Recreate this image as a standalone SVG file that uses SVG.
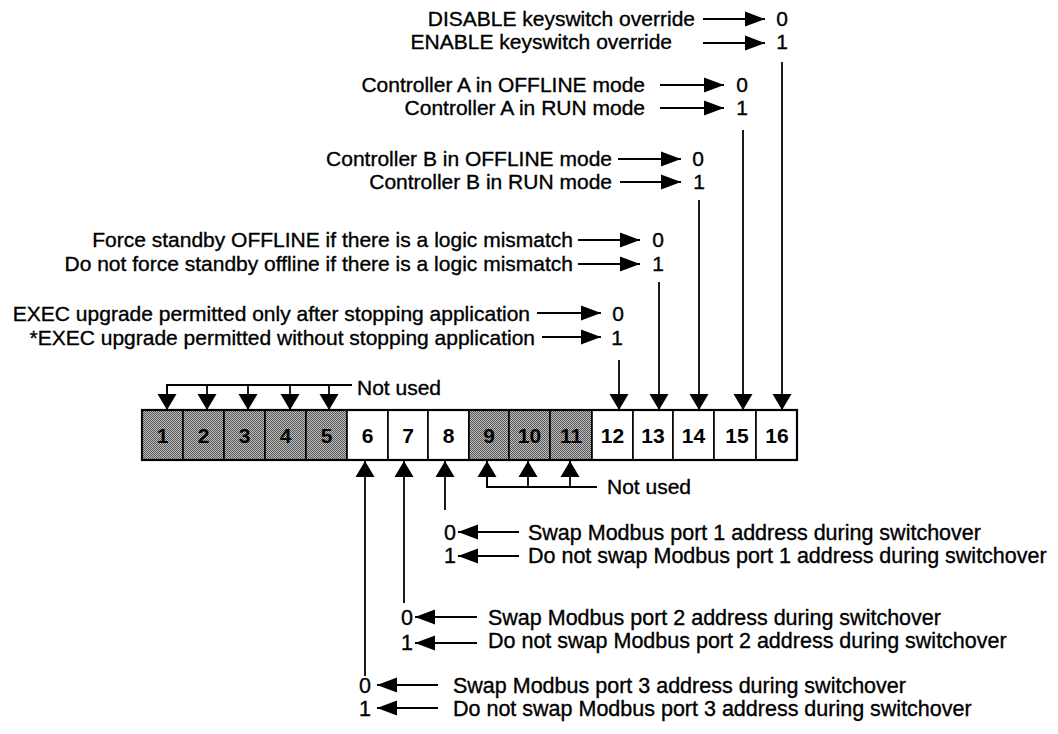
<svg xmlns="http://www.w3.org/2000/svg" width="1058" height="734" viewBox="0 0 1058 734">
<defs>
<pattern id="halftone" width="2" height="2" patternUnits="userSpaceOnUse">
<rect width="2" height="2" fill="#c0c0c0"/>
<rect x="0" y="0" width="1" height="1" fill="#555"/>
<rect x="1" y="1" width="1" height="1" fill="#555"/>
</pattern>
<marker id="ah" markerUnits="userSpaceOnUse" markerWidth="22" markerHeight="16" refX="20" refY="8" orient="auto" viewBox="0 0 22 16">
<path d="M0,0.5 L20,8 L0,15.5 z" fill="#000"/>
</marker>
<marker id="ahb" markerUnits="userSpaceOnUse" markerWidth="18" markerHeight="20" refX="16" refY="10" orient="auto" viewBox="0 0 18 20">
<path d="M0,0.5 L16,10 L0,19.5 z" fill="#000"/>
</marker>
</defs>
<style>
text{font-family:"Liberation Sans",Arial,Helvetica,sans-serif;fill:#000;stroke:#000;stroke-width:0.35}
.lab{font-size:21px}
.lab2{font-size:21.5px}
.num{font-size:21px;text-anchor:middle;font-weight:bold;stroke-width:0}
.cell{stroke:#000;stroke-width:1.6}
.gray{fill:url(#halftone)}
.white{fill:#fff}
.con{stroke:#000;stroke-width:1.8;fill:none}
.arr{marker-end:url(#ah)}
.arrb{marker-end:url(#ahb)}
</style>
<rect width="1058" height="734" fill="#fff"/>

<g id="register">
<g id="bit1"><rect class="cell gray" x="142" y="410" width="41" height="50"/><text class="num" x="162.5" y="443">1</text></g>
<g id="bit2"><rect class="cell gray" x="183" y="410" width="41" height="50"/><text class="num" x="203.5" y="443">2</text></g>
<g id="bit3"><rect class="cell gray" x="224" y="410" width="41" height="50"/><text class="num" x="244.5" y="443">3</text></g>
<g id="bit4"><rect class="cell gray" x="265" y="410" width="41" height="50"/><text class="num" x="285.5" y="443">4</text></g>
<g id="bit5"><rect class="cell gray" x="306" y="410" width="41" height="50"/><text class="num" x="326.5" y="443">5</text></g>
<g id="bit6"><rect class="cell white" x="347" y="410" width="41" height="50"/><text class="num" x="367.5" y="443">6</text></g>
<g id="bit7"><rect class="cell white" x="388" y="410" width="40" height="50"/><text class="num" x="408" y="443">7</text></g>
<g id="bit8"><rect class="cell white" x="428" y="410" width="41" height="50"/><text class="num" x="448.5" y="443">8</text></g>
<g id="bit9"><rect class="cell gray" x="469" y="410" width="40" height="50"/><text class="num" x="489" y="443">9</text></g>
<g id="bit10"><rect class="cell gray" x="509" y="410" width="41" height="50"/><text class="num" x="529.5" y="443">10</text></g>
<g id="bit11"><rect class="cell gray" x="550" y="410" width="42" height="50"/><text class="num" x="571" y="443">11</text></g>
<g id="bit12"><rect class="cell white" x="592" y="410" width="41" height="50"/><text class="num" x="612.5" y="443">12</text></g>
<g id="bit13"><rect class="cell white" x="633" y="410" width="40" height="50"/><text class="num" x="653" y="443">13</text></g>
<g id="bit14"><rect class="cell white" x="673" y="410" width="41" height="50"/><text class="num" x="693.5" y="443">14</text></g>
<g id="bit15"><rect class="cell white" x="714" y="410" width="42" height="50"/><text class="num" x="737" y="443">15</text></g>
<g id="bit16"><rect class="cell white" x="756" y="410" width="41" height="50"/><text class="num" x="777" y="443">16</text></g>
<rect x="142" y="410" width="655" height="50" fill="none" stroke="#000" stroke-width="2.2"/>
</g>

<g id="label-keyswitch">
<text class="lab" x="695" y="26" text-anchor="end">DISABLE keyswitch override</text>
<text class="lab" x="672" y="49" text-anchor="end">ENABLE keyswitch override</text>
<text class="lab" x="782" y="26" text-anchor="middle">0</text>
<text class="lab" x="782" y="49" text-anchor="middle">1</text>
</g>
<g id="label-ctrlA">
<text class="lab" x="645" y="92" text-anchor="end">Controller A in OFFLINE mode</text>
<text class="lab" x="645" y="115" text-anchor="end">Controller A in RUN mode</text>
<text class="lab" x="742" y="92" text-anchor="middle">0</text>
<text class="lab" x="742" y="115" text-anchor="middle">1</text>
</g>
<g id="label-ctrlB">
<text class="lab" x="612" y="166" text-anchor="end">Controller B in OFFLINE mode</text>
<text class="lab" x="612" y="189" text-anchor="end">Controller B in RUN mode</text>
<text class="lab" x="698" y="166" text-anchor="middle">0</text>
<text class="lab" x="699" y="189" text-anchor="middle">1</text>
</g>
<g id="label-standby">
<text class="lab" x="573" y="247" text-anchor="end">Force standby OFFLINE if there is a logic mismatch</text>
<text class="lab" x="573" y="271" text-anchor="end">Do not force standby offline if there is a logic mismatch</text>
<text class="lab" x="658" y="247" text-anchor="middle">0</text>
<text class="lab" x="658" y="271" text-anchor="middle">1</text>
</g>
<g id="label-exec">
<text class="lab" x="530" y="321" text-anchor="end">EXEC upgrade permitted only after stopping application</text>
<text class="lab" x="535" y="345" text-anchor="end">*EXEC upgrade permitted without stopping application</text>
<text class="lab" x="618" y="321" text-anchor="middle">0</text>
<text class="lab" x="617" y="345" text-anchor="middle">1</text>
</g>
<g id="label-notused-top">
<text class="lab" x="357" y="395">Not used</text>
</g>
<g id="label-notused-bottom">
<text class="lab" x="607" y="494">Not used</text>
</g>
<g id="label-port1">
<text class="lab2" x="450" y="540" text-anchor="middle">0</text>
<text class="lab2" x="450" y="563" text-anchor="middle">1</text>
<text class="lab2" x="528" y="540">Swap Modbus port 1 address during switchover</text>
<text class="lab2" x="528" y="563">Do not swap Modbus port 1 address during switchover</text>
</g>
<g id="label-port2">
<text class="lab2" x="407" y="625" text-anchor="middle">0</text>
<text class="lab2" x="407" y="650" text-anchor="middle">1</text>
<text class="lab2" x="488" y="625">Swap Modbus port 2 address during switchover</text>
<text class="lab2" x="488" y="648">Do not swap Modbus port 2 address during switchover</text>
</g>
<g id="label-port3">
<text class="lab2" x="365" y="693" text-anchor="middle">0</text>
<text class="lab2" x="365" y="716" text-anchor="middle">1</text>
<text class="lab2" x="453" y="693">Swap Modbus port 3 address during switchover</text>
<text class="lab2" x="453" y="716">Do not swap Modbus port 3 address during switchover</text>
</g>

<g id="connectors">
<line class="con arr" x1="703" y1="19" x2="765" y2="19"/>
<line class="con arr" x1="703" y1="43" x2="765" y2="43"/>
<line class="con arr" x1="660" y1="85" x2="724" y2="85"/>
<line class="con arr" x1="660" y1="108" x2="724" y2="108"/>
<line class="con arr" x1="618" y1="159" x2="681" y2="159"/>
<line class="con arr" x1="620" y1="182" x2="681" y2="182"/>
<line class="con arr" x1="578" y1="240" x2="640" y2="240"/>
<line class="con arr" x1="578" y1="264" x2="640" y2="264"/>
<line class="con arr" x1="537" y1="313" x2="601" y2="313"/>
<line class="con arr" x1="542" y1="337" x2="601" y2="337"/>
<line class="con arrb" x1="782" y1="62" x2="782" y2="410"/>
<line class="con arrb" x1="743" y1="130" x2="743" y2="410"/>
<line class="con arrb" x1="699" y1="200" x2="699" y2="410"/>
<line class="con arrb" x1="659" y1="282" x2="659" y2="410"/>
<line class="con arrb" x1="619" y1="360" x2="619" y2="410"/>
<path class="con" d="M167,397 V385 H352"/>
<line class="con arrb" x1="167" y1="385" x2="167" y2="410"/>
<line class="con arrb" x1="207" y1="385" x2="207" y2="410"/>
<line class="con arrb" x1="248" y1="385" x2="248" y2="410"/>
<line class="con arrb" x1="290" y1="385" x2="290" y2="410"/>
<line class="con arrb" x1="329" y1="385" x2="329" y2="410"/>
<path class="con" d="M487,476 V487 H597"/>
<line class="con arrb" x1="487" y1="487" x2="487" y2="461"/>
<line class="con arrb" x1="528" y1="487" x2="528" y2="461"/>
<line class="con arrb" x1="570" y1="487" x2="570" y2="461"/>
<line class="con arrb" x1="365" y1="676" x2="365" y2="461"/>
<line class="con arrb" x1="404" y1="603" x2="404" y2="461"/>
<line class="con arrb" x1="445" y1="510" x2="445" y2="461"/>
<line class="con arr" x1="519" y1="532" x2="458" y2="532"/>
<line class="con arr" x1="519" y1="556" x2="458" y2="556"/>
<line class="con arr" x1="477" y1="617" x2="415" y2="617"/>
<line class="con arr" x1="477" y1="643" x2="415" y2="643"/>
<line class="con arr" x1="438" y1="685" x2="377" y2="685"/>
<line class="con arr" x1="438" y1="708" x2="377" y2="708"/>
</g>
</svg>
